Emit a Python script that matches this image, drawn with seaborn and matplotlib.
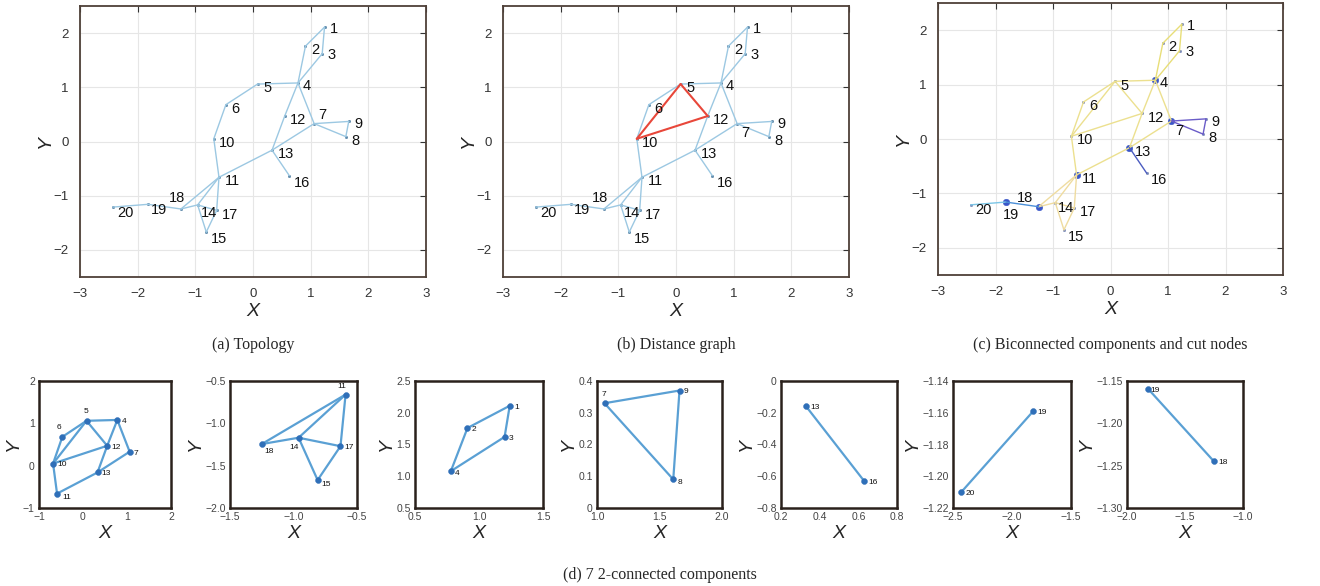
import numpy as np
import pandas as pd
import matplotlib
matplotlib.use("Agg")
import matplotlib.pyplot as plt
import seaborn as sns

# node coordinates
node_ids = list(range(1, 21))
node_x = [1.24, 0.91, 1.20, 0.78, 0.08, -0.47, 1.06, 1.61, 1.66, -0.68,
          -0.59, 0.55, 0.33, -0.96, -0.81, 0.63, -0.63, -1.25, -1.82, -2.43]
node_y = [2.11, 1.76, 1.62, 1.08, 1.06, 0.68, 0.33, 0.09, 0.37, 0.05,
          -0.66, 0.47, -0.16, -1.17, -1.67, -0.63, -1.27, -1.245, -1.159, -1.21]

# 2-connected components and their edges
comp1_edges = [(4, 5), (4, 12), (4, 7), (5, 12), (5, 6), (6, 10), (5, 10),
               (10, 12), (10, 11), (11, 13), (12, 13), (13, 7)]
comp2_edges = [(11, 18), (11, 14), (11, 17), (14, 17), (14, 18), (14, 15), (15, 17)]
comp3_edges = [(1, 2), (1, 3), (2, 4), (3, 4)]
comp4_edges = [(7, 9), (9, 8), (8, 7)]
comp5_edges = [(13, 16)]
comp6_edges = [(20, 19)]
comp7_edges = [(19, 18)]
components = [comp1_edges, comp2_edges, comp3_edges, comp4_edges,
              comp5_edges, comp6_edges, comp7_edges]

# edges highlighted in the distance graph
red_edges = [(5, 10), (10, 12), (12, 5)]
cut_nodes = [4, 7, 11, 13, 18, 19]

# tick settings of the small panels
sub_xticks = [[-1, 0, 1, 2], [-1.5, -1.0, -0.5], [0.5, 1.0, 1.5], [1.0, 1.5, 2.0],
              [0.2, 0.4, 0.6, 0.8], [-2.5, -2.0, -1.5], [-2.0, -1.5, -1.0]]
sub_yticks = [[-1, 0, 1, 2], [-2.0, -1.5, -1.0, -0.5], [0.5, 1.0, 1.5, 2.0, 2.5],
              [0, 0.1, 0.2, 0.3, 0.4], [-0.8, -0.6, -0.4, -0.2, 0],
              [-1.22, -1.20, -1.18, -1.16, -1.14], [-1.30, -1.25, -1.20, -1.15]]
sub_xdec = [0, 1, 1, 1, 1, 1, 1]
sub_ydec = [0, 1, 1, 1, 1, 2, 2]

captions = ["(a) Topology", "(b) Distance graph",
            "(c) Biconnected components and cut nodes"]
bottom_caption = "(d) 7 2-connected components"

comp_colors = ["#ece08f", "#efdca0", "#e8de78", "#6a5cc8", "#4b5cc0", "#7cc6e6", "#4a8fd8"]

pos = {n: (x, y) for n, x, y in zip(node_ids, node_x, node_y)}


def edge_frame(edges, comp=0):
    rows = []
    for k, (a, b) in enumerate(edges):
        for n in (a, b):
            rows.append({"x": pos[n][0], "y": pos[n][1], "edge": k, "comp": comp})
    return pd.DataFrame(rows)


all_edges = [e for c in components for e in c]
red_set = [tuple(sorted(r)) for r in red_edges]
base_edges = [e for e in all_edges if tuple(sorted(e)) not in red_set]

sns.set_style("white")
plt.rcParams["font.family"] = ["Liberation Sans", "DejaVu Sans"]

W, H = 1320, 586
fig = plt.figure(figsize=(W / 100, H / 100), dpi=100)


def px_axes(left, top, right, bottom):
    return fig.add_axes([left / W, 1 - bottom / H, (right - left) / W, (bottom - top) / H])


frame_col = "#4e4038"
edge_col = "#9cc8e2"


def style_top(ax):
    ax.set_xlim(-3, 3)
    ax.set_ylim(-2.5, 2.5)
    ax.set_xticks(range(-3, 4))
    ax.set_yticks(range(-2, 3))
    ax.grid(True, color="#e6e6e6", lw=0.8)
    ax.tick_params(direction="in", top=True, right=True, length=4,
                   labelsize=9.5, colors="#333333", pad=8)
    for s in ax.spines.values():
        s.set_color(frame_col)
        s.set_linewidth(1.3)
    ax.set_xlabel("X", fontsize=14, style="italic", labelpad=2)
    ax.set_ylabel("Y", fontsize=14, style="italic", labelpad=0)


def label_nodes(ax, nodes, size, offsets, default=(4, -3)):
    for n in nodes:
        dx, dy = offsets.get(n, default)
        ax.annotate(str(n), pos[n], xytext=(dx, dy), textcoords="offset points",
                    fontsize=size, ha="left", va="center", color="#111111")


top_off_a = {7: (3, 6), 18: (-9, 8), 9: (4, -2), 1: (4, -1), 3: (4, -1), 4: (3, -2),
             20: (3, -4), 19: (2, -4), 14: (2, -6), 15: (3, -5), 16: (3, -5)}
top_off_b = dict(top_off_a)
top_off_b[7] = (3, -7)
top_off_c = dict(top_off_b)
top_off_c[18] = (-16, 6)
top_off_c[19] = (-2, -9)
top_off_c[14] = (2, -4)

# (a) topology
ax_a = px_axes(80, 6, 426, 277)
sns.lineplot(data=edge_frame(base_edges), x="x", y="y", units="edge", estimator=None,
             sort=False, color=edge_col, lw=1.0, ax=ax_a)
sns.scatterplot(x=node_x, y=node_y, s=4, color="#5a86a8", edgecolor=None, ax=ax_a)
label_nodes(ax_a, node_ids, 10.5, top_off_a)
style_top(ax_a)

# (b) distance graph
ax_b = px_axes(503, 6, 849, 277)
sns.lineplot(data=edge_frame(base_edges), x="x", y="y", units="edge", estimator=None,
             sort=False, color=edge_col, lw=1.0, ax=ax_b)
sns.lineplot(data=edge_frame(red_edges), x="x", y="y", units="edge", estimator=None,
             sort=False, color="#e8473a", lw=1.5, ax=ax_b)
sns.scatterplot(x=node_x, y=node_y, s=4, color="#5a86a8", edgecolor=None, ax=ax_b)
label_nodes(ax_b, node_ids, 10.5, top_off_b)
style_top(ax_b)

# (c) biconnected components and cut nodes
ax_c = px_axes(938, 3, 1283, 275)
comp_df = pd.concat([edge_frame(c, i) for i, c in enumerate(components)])
comp_df["edge"] = comp_df["comp"] * 100 + comp_df["edge"]
sns.lineplot(data=comp_df, x="x", y="y", units="edge", hue="comp", estimator=None,
             sort=False, palette=comp_colors, lw=1.0, legend=False, ax=ax_c)
sns.scatterplot(x=node_x, y=node_y, s=4, color="#7a8ab8", edgecolor=None, ax=ax_c)
sns.scatterplot(x=[pos[n][0] for n in cut_nodes], y=[pos[n][1] for n in cut_nodes],
                s=22, color="#3a56c8", edgecolor=None, ax=ax_c)
label_nodes(ax_c, node_ids, 10.5, top_off_c)
style_top(ax_c)

for ax, cap in zip([ax_a, ax_b, ax_c], captions):
    bb = ax.get_position()
    fig.text(bb.x0 + bb.width / 2, 1 - 345 / H, cap, ha="center", va="center",
             fontsize=11.5, family=["Liberation Serif", "DejaVu Serif"])

# (d) the seven components
sub_boxes = [(39, 171), (230, 357), (415, 543), (597, 722), (781, 897), (953, 1071), (1127, 1243)]
sub_offsets = [
    {5: (-2, 7), 6: (-4, 7), 11: (4, -3)},
    {11: (-6, 6), 18: (2, -5), 14: (-7, -7), 15: (3, -3)},
    {2: (3, -1), 4: (3, -2)},
    {7: (-2, 6), 8: (3, -2)},
    {},
    {},
    {19: (2, -1)},
]


def fmt_tick(v, dec):
    if abs(v) < 1e-12:
        return "0"
    return f"{v:.{dec}f}".replace("-", "\u2212")


for i, edges in enumerate(components):
    left, right = sub_boxes[i]
    ax = px_axes(left, 381, right, 508)
    nodes = sorted({n for e in edges for n in e})
    sns.lineplot(data=edge_frame(edges), x="x", y="y", units="edge", estimator=None,
                 sort=False, color="#5aa0d4", lw=1.6, ax=ax)
    sns.scatterplot(x=[pos[n][0] for n in nodes], y=[pos[n][1] for n in nodes],
                    s=18, color="#2f6fb8", edgecolor=None, ax=ax, zorder=3)
    label_nodes(ax, nodes, 6, sub_offsets[i], default=(3, -1))
    xt, yt = sub_xticks[i], sub_yticks[i]
    ax.set_xlim(xt[0], xt[-1])
    ax.set_ylim(yt[0], yt[-1])
    ax.set_xticks(xt)
    ax.set_yticks(yt)
    ax.set_xticklabels([fmt_tick(v, sub_xdec[i]) for v in xt])
    ax.set_yticklabels([fmt_tick(v, sub_ydec[i]) for v in yt])
    ax.tick_params(direction="in", length=3, labelsize=7.5, colors="#444444", pad=3)
    for s in ax.spines.values():
        s.set_color("#2a211c")
        s.set_linewidth(1.8)
    ax.set_xlabel("X", fontsize=14, style="italic", labelpad=2)
    ax.set_ylabel("Y", fontsize=14, style="italic", labelpad=1)

fig.text(0.5, 1 - 575 / H, bottom_caption, ha="center", va="center",
         fontsize=11.5, family=["Liberation Serif", "DejaVu Serif"])

fig.savefig("out.png", dpi=100, facecolor="white")
